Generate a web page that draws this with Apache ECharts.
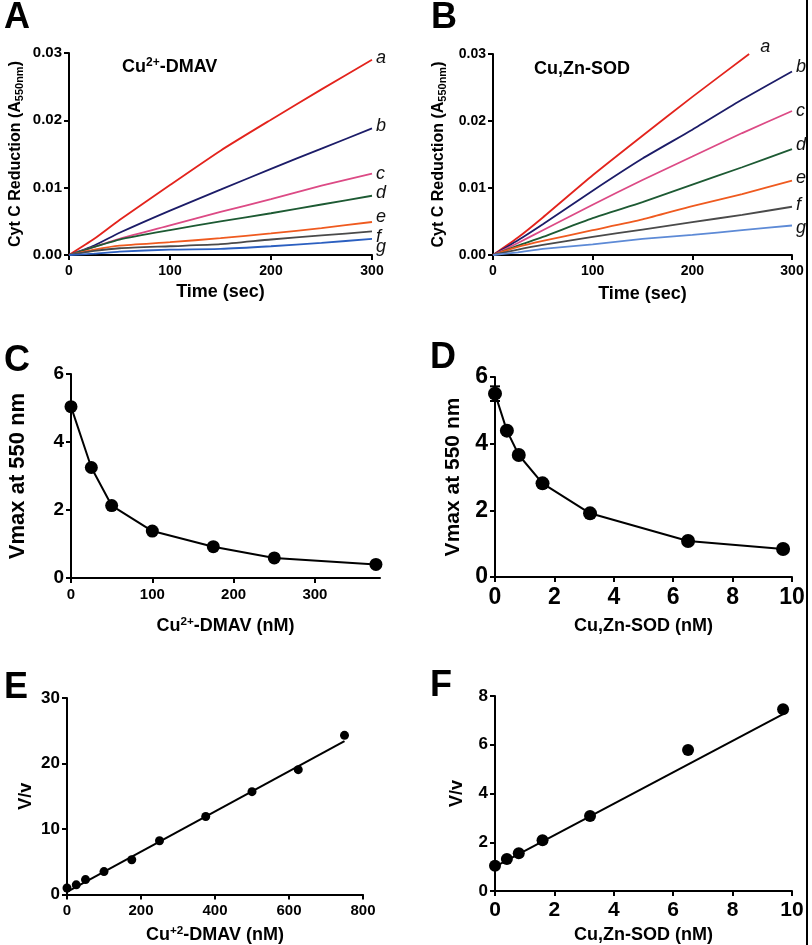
<!DOCTYPE html>
<html>
<head>
  <meta charset="utf-8">
  <style>
    html, body { margin: 0; background: #fff; }
    #container { width: 812px; height: 945px; }
  </style>
</head>
<body>
  <div id="container"></div>
  <script src="https://cdn.jsdelivr.net/npm/echarts@6/dist/echarts.min.js"></script>
  <script>
    // ---- data ----
    // A: Cu2+-DMAV, cyt c reduction vs time
    var timeA = [0, 25, 50, 100, 150, 200, 250, 300];
    var dmavA = [0, 0.0024, 0.0052, 0.0104, 0.0155, 0.0201, 0.0246, 0.0290];
    var dmavB = [0, 0.0014, 0.0033, 0.0066, 0.0097, 0.0128, 0.0158, 0.0188];
    var dmavC = [0, 0.0012, 0.0024, 0.0044, 0.0064, 0.0083, 0.0103, 0.0121];
    var dmavD = [0, 0.0012, 0.0023, 0.0037, 0.0050, 0.0062, 0.0075, 0.0088];
    var dmavE = [0, 0.0008, 0.0014, 0.0019, 0.0025, 0.0032, 0.0040, 0.0049];
    var dmavF = [0, 0.0006, 0.0010, 0.0013, 0.0016, 0.0023, 0.0029, 0.0035];
    var dmavG = [0, 0.0002, 0.0005, 0.0008, 0.0009, 0.0013, 0.0018, 0.0024];

    // B: Cu,Zn-SOD, cyt c reduction vs time (curve a stops at 0.03)
    var timeB = [0, 25, 50, 100, 150, 200, 250, 300];
    var timeBa = [0, 25, 50, 100, 150, 200, 257];
    var sodA = [0, 0.0026, 0.0056, 0.0119, 0.0178, 0.0236, 0.0300];
    var sodB = [0, 0.0022, 0.0046, 0.0096, 0.0144, 0.0187, 0.0232, 0.0274];
    var sodC = [0, 0.0018, 0.0037, 0.0075, 0.0112, 0.0147, 0.0182, 0.0215];
    var sodD = [0, 0.0014, 0.0027, 0.0055, 0.0079, 0.0105, 0.0131, 0.0158];
    var sodE = [0, 0.0012, 0.0021, 0.0037, 0.0053, 0.0073, 0.0091, 0.0111];
    var sodF = [0, 0.0008, 0.0015, 0.0027, 0.0038, 0.0049, 0.0060, 0.0072];
    var sodG = [0, 0.0004, 0.0009, 0.0016, 0.0024, 0.0030, 0.0037, 0.0044];

    // C / E: Cu2+-DMAV concentration (nM)
    var dmavConc = [0, 25, 50, 100, 175, 250, 375];
    var dmavVmax = [5.04, 3.25, 2.13, 1.38, 0.92, 0.59, 0.40];
    var dmavConcE = [0, 25, 50, 100, 175, 250, 375, 500, 625, 750];
    var dmavRatio = [1.0, 1.47, 2.28, 3.5, 5.3, 8.2, 11.9, 15.7, 19.06, 24.3];
    var dmavFit = [[0, 0.4], [750, 23.4]];

    // D / F: Cu,Zn-SOD concentration (nM)
    var sodConc = [0, 0.4, 0.8, 1.6, 3.2, 6.5, 9.7];
    var sodVmax = [5.5, 4.39, 3.66, 2.81, 1.91, 1.08, 0.84];
    var sodErr = [[0, 5.28, 5.72]];
    var sodRatio = [1.04, 1.31, 1.55, 2.08, 3.08, 5.78, 7.46];
    var sodFit = [[0, 1.0], [9.7, 7.26]];

    var curveNames = ['a', 'b', 'c', 'd', 'e', 'f', 'g'];
    var colorsA = ['#e3231c', '#1c1c68', '#dc4a85', '#1d5a33', '#ef5a1f', '#4a4a4a', '#2b5fc0'];
    var colorsB = ['#e3231c', '#1c1c68', '#dc4a85', '#1d5a33', '#ef5a1f', '#4a4a4a', '#5d8ad6'];
    var offsA = [[0, -2], [0, -2], [0, 0], [0, -3], [0, -5], [0, 6], [0, 8]];
    var offsB = [[7, -7], [0, -4], [0, 0], [0, -4], [0, -3], [0, -2], [0, 2]];

    var FONT = 'Liberation Sans, Arial, sans-serif';

    function pairs(xs, ys) {
      return xs.map(function (x, i) { return [x, ys[i]]; });
    }

    function xAx(grid, max, interval, fs, name, gap, nameFs, extra) {
      var ax = {
        type: 'value', gridIndex: grid, min: 0, max: max, interval: interval,
        name: name, nameLocation: 'middle', nameGap: gap,
        nameTextStyle: {
          color: '#000', fontWeight: 'bold', fontSize: nameFs, fontFamily: FONT,
          rich: {
            n: { fontSize: nameFs, fontWeight: 'bold', fontFamily: FONT, color: '#000' },
            s: { fontSize: nameFs * 0.65, fontWeight: 'bold', fontFamily: FONT, color: '#000', padding: [0, 0, 9, 0] }
          }
        },
        axisLine: { lineStyle: { color: '#000', width: 2 } },
        axisTick: { length: 5, lineStyle: { color: '#000', width: 2 } },
        axisLabel: { color: '#000', fontWeight: 'bold', fontSize: fs, fontFamily: FONT, margin: 9 },
        splitLine: { show: false }
      };
      return Object.assign(ax, extra || {});
    }

    function yAx(grid, max, interval, fs, name, gap, nameFs, extra) {
      var ax = xAx(grid, max, interval, fs, name, gap, nameFs, extra);
      ax.axisLabel.margin = 7;
      return ax;
    }

    var grids = [
      { left: 69, top: 53, width: 303, height: 202 },
      { left: 493, top: 54, width: 299, height: 201 },
      { left: 71, top: 374, width: 309, height: 204 },
      { left: 495, top: 377, width: 297, height: 200 },
      { left: 67, top: 698, width: 296, height: 198 },
      { left: 495, top: 696, width: 297, height: 197 }
    ];

    var yNameA = '{n|Cyt C Reduction (A}{b|550nm}{n|)}';
    var richSub = {
      n: { fontSize: 16, fontWeight: 'bold', fontFamily: FONT, color: '#000' },
      b: { fontSize: 11, fontWeight: 'bold', fontFamily: FONT, color: '#000', padding: [8, 0, 0, 0] }
    };

    var xAxes = [
      xAx(0, 300, 100, 14, 'Time (sec)', 28, 18),
      xAx(1, 300, 100, 14, 'Time (sec)', 30, 18),
      xAx(2, 380, 100, 15, '{n|Cu}{s|2+}{n|-DMAV (nM)}', 38, 18, {}),
      xAx(3, 10, 2, 23, 'Cu,Zn-SOD (nM)', 40, 18),
      xAx(4, 800, 200, 15, '{n|Cu}{s|+2}{n|-DMAV (nM)}', 30, 18),
      xAx(5, 10, 2, 21, 'Cu,Zn-SOD (nM)', 35, 18)
    ];
    xAxes[2].axisLabel.customValues = [0, 100, 200, 300];
    xAxes[2].axisTick.customValues = [0, 100, 200, 300];

    var yAxes = [
      yAx(0, 0.03, 0.01, 15, yNameA, 44, 16),
      yAx(1, 0.03, 0.01, 14, yNameA, 45, 16),
      yAx(2, 6, 2, 19, 'Vmax at 550 nm', 42, 22),
      yAx(3, 6, 2, 23, 'Vmax at 550 nm', 31, 21),
      yAx(4, 30, 10, 17, 'V/v', 32, 18),
      yAx(5, 8, 2, 17, 'V/v', 29, 18)
    ];
    [0, 1].forEach(function (i) {
      yAxes[i].axisLabel.formatter = function (v) { return v.toFixed(2); };
      yAxes[i].nameTextStyle.rich = richSub;
    });

    var series = [];
    var dmavSets = [dmavA, dmavB, dmavC, dmavD, dmavE, dmavF, dmavG];
    var sodSets = [sodA, sodB, sodC, sodD, sodE, sodF, sodG];

    function curve(grid, data, color, label, off) {
      return {
        type: 'line', xAxisIndex: grid, yAxisIndex: grid, data: data,
        showSymbol: false, symbol: 'none', smooth: 0.2,
        lineStyle: { color: color, width: 1.8 },
        endLabel: {
          show: true, formatter: label, distance: 4, offset: off,
          fontStyle: 'italic', fontSize: 18, fontFamily: FONT, color: '#111'
        }
      };
    }

    dmavSets.forEach(function (ys, i) {
      series.push(curve(0, pairs(timeA, ys), colorsA[i], curveNames[i], offsA[i]));
    });
    sodSets.forEach(function (ys, i) {
      var t = i === 0 ? timeBa : timeB;
      series.push(curve(1, pairs(t, ys), colorsB[i], curveNames[i], offsB[i]));
    });

    // C, D: Vmax vs inhibitor
    series.push({
      type: 'line', xAxisIndex: 2, yAxisIndex: 2, data: pairs(dmavConc, dmavVmax),
      symbol: 'circle', symbolSize: 13, itemStyle: { color: '#000' },
      lineStyle: { color: '#000', width: 2 }
    });
    series.push({
      type: 'custom', xAxisIndex: 3, yAxisIndex: 3, data: sodErr,
      encode: { x: 0, y: [1, 2] },
      renderItem: function (params, api) {
        var lo = api.coord([api.value(0), api.value(1)]);
        var hi = api.coord([api.value(0), api.value(2)]);
        var st = { stroke: '#000', lineWidth: 2 };
        return {
          type: 'group', children: [
            { type: 'line', shape: { x1: lo[0], y1: lo[1], x2: hi[0], y2: hi[1] }, style: st },
            { type: 'line', shape: { x1: lo[0] - 5, y1: lo[1], x2: lo[0] + 5, y2: lo[1] }, style: st },
            { type: 'line', shape: { x1: hi[0] - 5, y1: hi[1], x2: hi[0] + 5, y2: hi[1] }, style: st }
          ]
        };
      }
    });
    series.push({
      type: 'line', xAxisIndex: 3, yAxisIndex: 3, data: pairs(sodConc, sodVmax),
      symbol: 'circle', symbolSize: 14, itemStyle: { color: '#000' },
      lineStyle: { color: '#000', width: 2 }
    });

    // E, F: V/v with linear fit
    series.push({
      type: 'line', xAxisIndex: 4, yAxisIndex: 4, data: dmavFit, showSymbol: false,
      lineStyle: { color: '#000', width: 2 }
    });
    series.push({
      type: 'scatter', xAxisIndex: 4, yAxisIndex: 4, data: pairs(dmavConcE, dmavRatio),
      symbolSize: 9, itemStyle: { color: '#000', opacity: 1 }
    });
    series.push({
      type: 'line', xAxisIndex: 5, yAxisIndex: 5, data: sodFit, showSymbol: false,
      lineStyle: { color: '#000', width: 2 }
    });
    series.push({
      type: 'scatter', xAxisIndex: 5, yAxisIndex: 5, data: pairs(sodConc, sodRatio),
      symbolSize: 12, itemStyle: { color: '#000', opacity: 1 }
    });

    function letter(txt, left, top) {
      return {
        text: txt, left: left, top: top, padding: 0,
        textStyle: { fontSize: 36, fontWeight: 'bold', fontFamily: FONT, color: '#000' }
      };
    }
    var richTitle = {
      n: { fontSize: 18, fontWeight: 'bold', fontFamily: FONT, color: '#000' },
      s: { fontSize: 12, fontWeight: 'bold', fontFamily: FONT, color: '#000', padding: [0, 0, 9, 0] }
    };

    var chart = echarts.init(document.getElementById('container'), null, { renderer: 'canvas' });
    chart.setOption({
      animation: false,
      backgroundColor: '#fff',
      title: [
        letter('A', 4, 0), letter('B', 431, 0),
        letter('C', 4, 343), letter('D', 430, 340),
        letter('E', 4, 670), letter('F', 430, 668),
        { text: '{n|Cu}{s|2+}{n|-DMAV}', left: 122, top: 57, padding: 0, textStyle: { rich: richTitle } },
        { text: 'Cu,Zn-SOD', left: 534, top: 60, padding: 0,
          textStyle: { fontSize: 18, fontWeight: 'bold', fontFamily: FONT, color: '#000' } }
      ],
      grid: grids,
      xAxis: xAxes,
      yAxis: yAxes,
      series: series,
      graphic: [
        { type: 'rect', shape: { x: 806, y: 0, width: 2, height: 945 }, style: { fill: '#000' } }
      ]
    });

    window.addEventListener('resize', chart.resize);
  </script>
</body>
</html>
